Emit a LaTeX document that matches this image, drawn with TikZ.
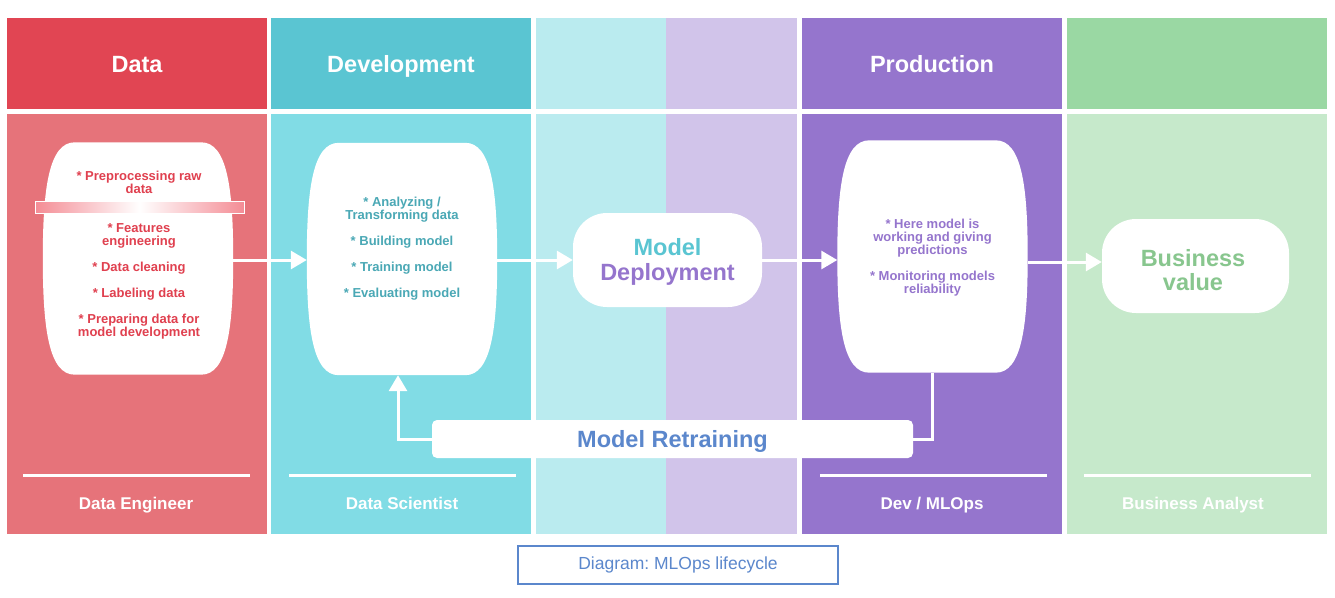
\documentclass[tikz,border=0pt]{standalone}
\usepackage{fontspec}
\setmainfont{Liberation Sans}
\usetikzlibrary{arrows.meta,positioning,calc}
\frenchspacing
\definecolor{dataHead}{HTML}{E14553}
\definecolor{dataBody}{HTML}{E6737A}
\definecolor{devHead}{HTML}{5AC5D2}
\definecolor{devBody}{HTML}{81DCE5}
\definecolor{midCyan}{HTML}{BAEBEF}
\definecolor{midLav}{HTML}{D1C4EA}
\definecolor{prodHead}{HTML}{9575CD}
\definecolor{bizHead}{HTML}{9AD8A3}
\definecolor{bizBody}{HTML}{C6E9CB}
\definecolor{dataText}{HTML}{E0404F}
\definecolor{devText}{HTML}{4AA8B5}
\definecolor{bizText}{HTML}{88C68E}
\definecolor{retrainText}{HTML}{5B87CC}
\definecolor{barPink}{HTML}{F48C95}
\newcommand{\barrelfill}[1]{%
  \fill[white] ($(#1.north west)+(32,0)$) -- ($(#1.north east)+(-32,0)$)
    .. controls ($(#1.north east)+(-6,0)$) and ($(#1.east)+(0,-70)$) .. (#1.east)
    .. controls ($(#1.east)+(0,70)$) and ($(#1.south east)+(-6,0)$) .. ($(#1.south east)+(-32,0)$)
    -- ($(#1.south west)+(32,0)$)
    .. controls ($(#1.south west)+(6,0)$) and ($(#1.west)+(0,70)$) .. (#1.west)
    .. controls ($(#1.west)+(0,-70)$) and ($(#1.north west)+(6,0)$) .. ($(#1.north west)+(32,0)$)
    -- cycle;}
\tikzset{
  headcell/.style={minimum width=260pt,minimum height=91pt,inner sep=0pt,
                   text height=17pt,text depth=0pt,
                   text=white,font=\fontsize{23.5}{26}\selectfont\bfseries},
  bodycell/.style={minimum width=260pt,minimum height=420pt,inner sep=0pt},
  stagebox/.style={minimum width=190pt,minimum height=232pt,inner sep=0pt},
  goalbox/.style={fill=white,rounded corners=34pt,minimum width=189pt,
                  minimum height=94pt,inner sep=0pt},
  goaltext/.style={align=center,font=\fontsize{23.5}{24.5}\selectfont\bfseries},
  tasktext/.style={align=center,font=\fontsize{13}{13}\selectfont\bfseries},
  flowline/.style={draw=white,line width=3pt},
  flowarrow/.style={flowline,-{Triangle[length=16pt,width=18pt]}},
  roleline/.style={draw=white,line width=3pt},
  rolename/.style={text=white,text height=12pt,text depth=0pt,
                   font=\fontsize{17}{20}\selectfont\bfseries},
}

\begin{document}
\begin{tikzpicture}[x=1pt,y=-1pt]
  \useasboundingbox[fill=white] (0,0) rectangle (1335,597);

  % columns
  \node[headcell,fill=dataHead] (dataHead) at (137,63.5) {Data};
  \node[headcell,fill=devHead] (devHead) at (401,63.5) {Development};
  \node[headcell,fill=prodHead] (prodHead) at (932,63.5) {Production};
  \node[headcell,fill=bizHead] (bizHead) at (1196.5,63.5) {};
  \node[bodycell,fill=dataBody] (dataCol) at (137,324) {};
  \node[bodycell,fill=devBody] (devCol) at (401,324) {};
  \node[bodycell,fill=prodHead] (prodCol) at (932,324) {};
  \node[bodycell,fill=bizBody] (bizCol) at (1196.5,324) {};
  \foreach \top/\bot in {18/109,114/534} {
    \fill[midCyan] (536,\top) rectangle (666,\bot);
    \fill[midLav] (666,\top) rectangle (797,\bot);
  }

  % stage boxes
  \node[stagebox] (dataBox) at (138,258.5) {};
  \node[stagebox] (devBox) at (402,259) {};
  \node[stagebox] (prodBox) at (932.5,256.5) {};
  \barrelfill{dataBox}
  \barrelfill{devBox}
  \barrelfill{prodBox}
  \node[goalbox] (deployBox) at (667.5,260) {};
  \node[goaltext] (deployText) at (667.5,262)
    {{\color{devHead}Model}\\{\color{prodHead}Deployment}};
  \node[goalbox,minimum width=187pt] (valueBox) at (1195.5,266) {};
  \node[goaltext,text=bizText] (valueText) at (1193,270) {Business\\value};

  \node[draw=white,line width=1pt,inner sep=0pt,minimum width=209pt,minimum height=12pt,
        left color=barPink,right color=barPink,middle color=white] (dataBar) at (139.5,207) {};

  \node[tasktext,text=dataText] (dataTasks) at (139,255)
    {* Preprocessing raw\\data\\[26pt]* Features\\engineering\\[13pt]* Data cleaning\\[13pt]%
     * Labeling data\\[13pt]* Preparing data for\\model development};
  \node[tasktext,text=devText] (devTasks) at (402,249)
    {* Analyzing /\\Transforming data\\[13pt]* Building model\\[13pt]* Training model\\[13pt]%
     * Evaluating model};
  \node[tasktext,text=prodHead] (prodTasks) at (932.5,258)
    {* Here model is\\working and giving\\predictions\\[13pt]* Monitoring models\\reliability};

  % flow
  \draw[flowarrow] (dataBox.east |- deployBox.west) -- (devBox.west |- deployBox.west);
  \draw[flowarrow] (devBox.east |- deployBox.west) -- (deployBox.west);
  \draw[flowarrow] (deployBox.east) -- (prodBox.west |- deployBox.east);
  \draw[flowarrow] (prodBox.east |- 0,262) -- (valueBox.west |- 0,262);

  % retraining loop
  \node[fill=white,rounded corners=5pt,minimum width=481pt,minimum height=38pt,
        text height=17pt,text depth=0pt,
        text=retrainText,font=\fontsize{23.5}{26}\selectfont\bfseries] (retrainBox) at (672.5,439)
    {Model Retraining};
  \draw[flowline] (prodBox.south) |- (retrainBox.east);
  \draw[flowarrow] (retrainBox.west) -| ([xshift=-4pt]devBox.south);

  % roles
  \draw[roleline] (23,475) -- (250,475);
  \draw[roleline] (289,475) -- (516,475);
  \draw[roleline] (820,475) -- (1047,475);
  \draw[roleline] (1084,475) -- (1311,475);
  \node[rolename] (dataRole) at (136,503) {Data Engineer};
  \node[rolename] (devRole) at (402,503) {Data Scientist};
  \node[rolename] (prodRole) at (932,503) {Dev / MLOps};
  \node[rolename] (bizRole) at (1193,503) {Business Analyst};

  % caption
  \node[draw=retrainText,line width=1.5pt,minimum width=320pt,minimum height=38pt,
        text=retrainText,font=\fontsize{17.5}{20}\selectfont] (caption) at (678,565)
    {Diagram: MLOps lifecycle};
\end{tikzpicture}
\end{document}
